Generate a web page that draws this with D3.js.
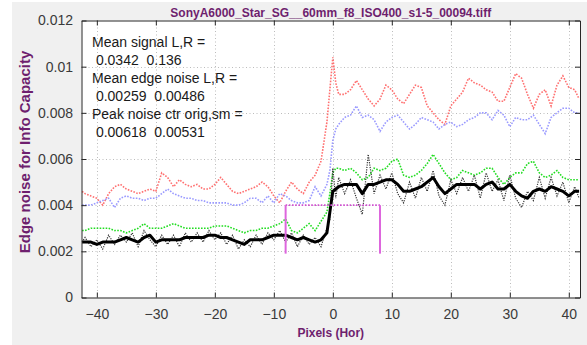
<!DOCTYPE html>
<html>
<head>
<meta charset="utf-8">
<script src="https://cdn.jsdelivr.net/npm/d3@7"></script>
<style>
html, body { margin: 0; padding: 0; background: #fff; }
text { font-family: "Liberation Sans", Arial, sans-serif; }
</style>
</head>
<body>
<div id="chart"></div>
<script>
// pixel positions (Hor) of the samples
var xs = [-42.5, -42, -41, -40, -39, -38, -37, -36, -35, -34, -33, -32, -31, -30,
  -29, -28, -27, -26, -25, -24, -23, -22, -21, -20, -19, -18, -17, -16, -15, -14,
  -13, -12, -11, -10, -9, -8, -7, -6, -5, -4, -3, -2, -1, -0.5, 0, 0.5,
  1, 2, 3, 4, 5, 6, 7, 8, 9, 10, 11, 12, 13, 14, 15, 16, 17, 18, 19, 20,
  21, 22, 23, 24, 25, 26, 27, 28, 29, 30, 31, 32, 33, 34, 35, 36, 37, 38, 39, 40, 41, 41.75];

// red dotted
var noiseRed = [0.0046, 0.0045, 0.0044, 0.0043, 0.0040, 0.0045, 0.0048, 0.0049, 0.0047, 0.0046, 0.0045, 0.0046, 0.0047, 0.0046,
  0.0054, 0.0052, 0.0048, 0.0051, 0.0049, 0.0048, 0.0049, 0.0047, 0.0047, 0.0049, 0.0052, 0.0049, 0.0046, 0.0045, 0.0046, 0.0047,
  0.0048, 0.0050, 0.0048, 0.0044, 0.0041, 0.0046, 0.0050, 0.0047, 0.0045, 0.0050, 0.0053, 0.0059, 0.0076, 0.0090, 0.0104, 0.0093,
  0.0088, 0.0088, 0.0090, 0.0094, 0.0090, 0.0086, 0.0083, 0.0086, 0.0092, 0.0090, 0.0086, 0.0084, 0.0088, 0.0092, 0.0091, 0.0083, 0.0080, 0.0077, 0.0075, 0.0083,
  0.0086, 0.0089, 0.0095, 0.0093, 0.0092, 0.0090, 0.0089, 0.0085, 0.0085, 0.0091, 0.0097, 0.0095, 0.0088, 0.0082, 0.0088, 0.0090, 0.0083, 0.0092, 0.0096, 0.0091, 0.0090, 0.0086];

// blue dotted
var noiseBlue = [0.0040, 0.0040, 0.0040, 0.0041, 0.0042, 0.0043, 0.0039, 0.0043, 0.0044, 0.0043, 0.0043, 0.0042, 0.0043, 0.0043,
  0.0045, 0.0047, 0.0045, 0.0044, 0.0043, 0.0043, 0.0042, 0.0042, 0.0041, 0.0041, 0.0041, 0.0041, 0.0040, 0.0040, 0.0041, 0.0043,
  0.0043, 0.0041, 0.0044, 0.0041, 0.0045, 0.0044, 0.0042, 0.0041, 0.0041, 0.0042, 0.0048, 0.0044, 0.0049, 0.0055, 0.0068, 0.0073,
  0.0075, 0.0078, 0.0079, 0.0083, 0.0078, 0.0079, 0.0077, 0.0072, 0.0076, 0.0078, 0.0079, 0.0076, 0.0073, 0.0075, 0.0078, 0.0077, 0.0076, 0.0073, 0.0075, 0.0076,
  0.0074, 0.0075, 0.0077, 0.0078, 0.0080, 0.0080, 0.0077, 0.0081, 0.0079, 0.0074, 0.0078, 0.0077, 0.0077, 0.0079, 0.0075, 0.0071, 0.0078, 0.0080, 0.0082, 0.0082, 0.0080, 0.0080];

// green dotted
var noiseGreen = [0.0029, 0.0029, 0.0030, 0.0030, 0.0030, 0.0030, 0.0029, 0.0029, 0.0028, 0.0029, 0.0030, 0.0032, 0.0030, 0.0030,
  0.0030, 0.0031, 0.0032, 0.0031, 0.0030, 0.0030, 0.0030, 0.0030, 0.0030, 0.0031, 0.0031, 0.0031, 0.0030, 0.0029, 0.0028, 0.0029,
  0.0029, 0.0030, 0.0030, 0.0031, 0.0032, 0.0034, 0.0029, 0.0028, 0.0030, 0.0032, 0.0029, 0.0033, 0.0037, 0.0045, 0.0054, 0.0056,
  0.0056, 0.0055, 0.0056, 0.0054, 0.0051, 0.0052, 0.0056, 0.0055, 0.0056, 0.0059, 0.0060, 0.0053, 0.0052, 0.0053, 0.0055, 0.0058, 0.0062, 0.0058, 0.0054, 0.0051,
  0.0052, 0.0055, 0.0054, 0.0053, 0.0054, 0.0056, 0.0056, 0.0052, 0.0049, 0.0052, 0.0054, 0.0054, 0.0058, 0.0059, 0.0054, 0.0052, 0.0053, 0.0055, 0.0052, 0.0051, 0.0051, 0.0051];

// black dotted, original
var noiseOrig = [0.0024, 0.0026, 0.0022, 0.0025, 0.0021, 0.0027, 0.0023, 0.0027, 0.0024, 0.0028, 0.0022, 0.0029, 0.0025, 0.0022,
  0.0027, 0.0023, 0.0027, 0.0022, 0.0028, 0.0024, 0.0028, 0.0024, 0.0029, 0.0025, 0.0028, 0.0023, 0.0027, 0.0021, 0.0025, 0.0022,
  0.0027, 0.0023, 0.0028, 0.0025, 0.0029, 0.0024, 0.0028, 0.0022, 0.0027, 0.0023, 0.0026, 0.0022, 0.0030, 0.0034, 0.0056, 0.0043,
  0.0052, 0.0045, 0.0051, 0.0043, 0.0036, 0.0062, 0.0045, 0.0053, 0.0047, 0.0054, 0.0045, 0.0041, 0.0050, 0.0043, 0.0052, 0.0046, 0.0055, 0.0044, 0.0040, 0.0051,
  0.0045, 0.0052, 0.0046, 0.0053, 0.0043, 0.0054, 0.0046, 0.0051, 0.0042, 0.0053, 0.0043, 0.0039, 0.0046, 0.0042, 0.0052, 0.0043, 0.0052, 0.0044, 0.0050, 0.0041, 0.0048, 0.0043];

// black thick, smoothed
var noiseSmooth = [0.0024, 0.0024, 0.0024, 0.0023, 0.0024, 0.0024, 0.0024, 0.0025, 0.0026, 0.0025, 0.0024, 0.0026, 0.0027, 0.0024,
  0.0025, 0.0025, 0.0025, 0.0025, 0.0026, 0.0026, 0.0026, 0.0026, 0.0027, 0.0027, 0.0026, 0.0026, 0.0025, 0.0024, 0.0023, 0.0025,
  0.0025, 0.0025, 0.0026, 0.0027, 0.0027, 0.0027, 0.0026, 0.0025, 0.0026, 0.0025, 0.0024, 0.0025, 0.0028, 0.0037, 0.0046, 0.0047,
  0.0048, 0.0049, 0.0049, 0.0049, 0.0045, 0.0049, 0.0049, 0.0050, 0.0051, 0.0051, 0.0049, 0.0046, 0.0046, 0.0047, 0.0048, 0.0050, 0.0052, 0.0048, 0.0045, 0.0047,
  0.0049, 0.0049, 0.0049, 0.0049, 0.0047, 0.0049, 0.0050, 0.0047, 0.0047, 0.0049, 0.0046, 0.0044, 0.0043, 0.0046, 0.0047, 0.0046, 0.0048, 0.0047, 0.0046, 0.0044, 0.0046, 0.0046];

// magenta window
var windowX = [-8, 8];
var windowTop = 0.004;
var windowBottom = 0.0019;

var xTicks = [-40, -30, -20, -10, 0, 10, 20, 30, 40];
var yTicks = [0, 0.002, 0.004, 0.006, 0.008, 0.01, 0.012];
var yTickLabels = ["0", "0.002", "0.004", "0.006", "0.008", "0.01", "0.012"];

var infoLines = ["Mean signal L,R =", " 0.0342  0.136",
  "Mean edge noise L,R =", " 0.00259  0.00486",
  "Peak noise ctr orig,sm =", " 0.00618  0.00531"];

var title = "SonyA6000_Star_SG__60mm_f8_ISO400_s1-5_00094.tiff";
var xLabel = "Pixels (Hor)";
var yLabel = "Edge noise for Info Capacity";

function init() {
    var w = 587;
    var h = 345;
    var left = 81.5, right = 580, top = 20.5, bottom = 297.5;

    var svg = d3.select("#chart")
                .append("svg")
                .attr("width", w)
                .attr("height", h);

    // figure background
    svg.append("rect")
        .attr("x", 12).attr("y", 2)
        .attr("width", w - 12).attr("height", h - 2)
        .attr("fill", "#f0f0f0");

    svg.append("rect")
        .attr("x", left).attr("y", top)
        .attr("width", right - left).attr("height", bottom - top)
        .attr("fill", "#fff");

    var xScale = d3.scaleLinear()
                    .domain([-42.6, 41.9])
                    .range([left, right]);
    var yScale = d3.scaleLinear()
                    .domain([0, 0.012])
                    .range([bottom, top]);

    // grid
    var grid = svg.append("g")
        .attr("stroke", "#bcbcbc")
        .attr("stroke-width", 1)
        .attr("stroke-dasharray", "1,2.5");
    grid.selectAll(".gx")
        .data(xTicks)
        .enter()
        .append("line")
        .attr("x1", function(d){ return Math.round(xScale(d)) + 0.5; })
        .attr("x2", function(d){ return Math.round(xScale(d)) + 0.5; })
        .attr("y1", top)
        .attr("y2", bottom);
    grid.selectAll(".gy")
        .data(yTicks.slice(1, -1))
        .enter()
        .append("line")
        .attr("y1", function(d){ return Math.round(yScale(d)) + 0.5; })
        .attr("y2", function(d){ return Math.round(yScale(d)) + 0.5; })
        .attr("x1", left)
        .attr("x2", right);

    var line = function(values) {
        return d3.line()
            .x(function(d, i){ return xScale(xs[i]); })
            .y(function(d){ return yScale(d); })(values);
    };

    var plot = svg.append("g");

    plot.append("path")
        .attr("d", line(noiseRed))
        .attr("fill", "none")
        .attr("stroke", "#ff7070")
        .attr("stroke-width", 1.6)
        .attr("stroke-dasharray", "1.6,1.4");

    plot.append("path")
        .attr("d", line(noiseBlue))
        .attr("fill", "none")
        .attr("stroke", "#9a9aff")
        .attr("stroke-width", 1.6)
        .attr("stroke-dasharray", "1.6,1.4");

    plot.append("path")
        .attr("d", line(noiseGreen))
        .attr("fill", "none")
        .attr("stroke", "#22dd22")
        .attr("stroke-width", 1.6)
        .attr("stroke-dasharray", "1.6,1.4");

    plot.append("path")
        .attr("d", line(noiseOrig))
        .attr("fill", "none")
        .attr("stroke", "#333")
        .attr("stroke-width", 1.2)
        .attr("stroke-dasharray", "1.2,1.2");

    plot.append("path")
        .attr("d", line(noiseSmooth))
        .attr("fill", "none")
        .attr("stroke", "#000")
        .attr("stroke-width", 3)
        .attr("stroke-linejoin", "round");

    // window markers
    plot.append("line")
        .attr("x1", xScale(windowX[0])).attr("x2", xScale(windowX[1]))
        .attr("y1", yScale(windowTop)).attr("y2", yScale(windowTop))
        .attr("stroke", "#d050d0")
        .attr("stroke-width", 1.6)
        .attr("stroke-dasharray", "1.6,1.6");
    plot.selectAll(".wv")
        .data(windowX)
        .enter()
        .append("line")
        .attr("x1", function(d){ return xScale(d); })
        .attr("x2", function(d){ return xScale(d); })
        .attr("y1", yScale(windowTop))
        .attr("y2", yScale(windowBottom))
        .attr("stroke", "#dd66dd")
        .attr("stroke-width", 2);

    // axes, inward ticks on all four sides
    var xAxis = d3.axisBottom(xScale).tickValues(xTicks)
        .tickSizeInner(-5).tickSizeOuter(0).tickPadding(12)
        .tickFormat(d3.format("d"));
    var yAxis = d3.axisLeft(yScale).tickValues(yTicks)
        .tickSizeInner(-5).tickSizeOuter(0).tickPadding(8.5)
        .tickFormat(function(d, i){ return yTickLabels[i]; });

    svg.append("g").attr("transform", "translate(0," + bottom + ")").call(xAxis);
    svg.append("g").attr("transform", "translate(" + left + ",0)").call(yAxis);
    svg.append("g").attr("transform", "translate(0," + top + ")")
        .call(d3.axisTop(xScale).tickValues(xTicks).tickSizeInner(-5).tickSizeOuter(0).tickFormat(""));
    svg.append("g").attr("transform", "translate(" + right + ",0)")
        .call(d3.axisRight(yScale).tickValues(yTicks).tickSizeInner(-5).tickSizeOuter(0).tickFormat(""));

    svg.selectAll(".domain").attr("stroke", "#262626");
    svg.selectAll(".tick line").attr("stroke", "#262626");
    svg.selectAll(".tick text")
        .attr("fill", "#3a3a3a")
        .style("font-family", "'Liberation Sans', Arial, sans-serif")
        .style("font-size", "14px");

    // info text
    svg.selectAll(".info")
        .data(infoLines)
        .enter()
        .append("text")
        .attr("x", 92)
        .attr("y", function(d, i){ return 47 + i * 18; })
        .style("white-space", "pre")
        .style("font-size", "14px")
        .attr("fill", "#1a1a1a")
        .text(function(d){ return d; });

    // title and labels
    svg.append("text")
        .attr("x", (left + right) / 2)
        .attr("y", 17)
        .attr("text-anchor", "middle")
        .attr("font-weight", "bold")
        .style("font-size", "12px")
        .attr("fill", "#6e1f6e")
        .text(title);

    svg.append("text")
        .attr("x", (left + right) / 2)
        .attr("y", 337)
        .attr("text-anchor", "middle")
        .attr("font-weight", "bold")
        .style("font-size", "12px")
        .attr("fill", "#6e1f6e")
        .text(xLabel);

    svg.append("text")
        .attr("transform", "translate(30,152) rotate(-90)")
        .attr("text-anchor", "middle")
        .attr("font-weight", "bold")
        .style("font-size", "15px")
        .attr("fill", "#6e1f6e")
        .text(yLabel);
}

window.onload = init;
</script>
</body>
</html>
